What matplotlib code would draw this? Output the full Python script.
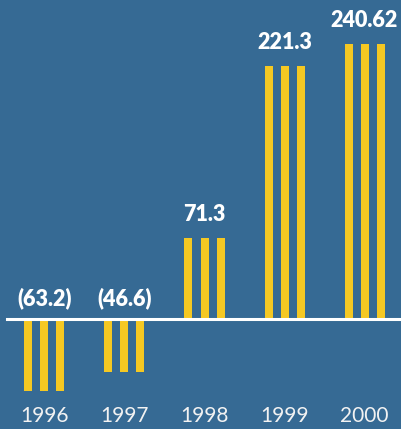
import numpy as np
import matplotlib
matplotlib.use('Agg')
import matplotlib.pyplot as plt

# data
years = ['1996', '1997', '1998', '1999', '2000']
values = [-63.2, -46.6, 71.3, 221.3, 240.62]
value_labels = ['(63.2)', '(46.6)', '71.3', '221.3', '240.62']

bg = '#366a94'
bar_color = '#f5c823'

plt.rcParams['font.family'] = ['Lato', 'DejaVu Sans']

fig = plt.figure(figsize=(4.01, 4.29), dpi=100)
fig.patch.set_facecolor(bg)
ax = fig.add_axes([0, 0, 1, 1])
ax.set_facecolor(bg)

x = np.arange(len(years))
# three thin bars per year
for off in (-0.2, 0.0, 0.2):
    ax.bar(x + off, values, width=0.1, color=bar_color, zorder=2)

# baseline
ax.axhline(0, xmin=0.017, xmax=1, color='white', linewidth=2.2, zorder=3)

for xi, v, lab in zip(x, values, value_labels):
    if v >= 0:
        ax.annotate(lab, (xi, v), xytext=(0, 12), textcoords='offset points',
                    ha='center', va='baseline', color='white',
                    fontsize=15.5, fontweight='heavy')
    else:
        ax.annotate(lab, (xi, 0), xytext=(0, 10), textcoords='offset points',
                    ha='center', va='baseline', color='white',
                    fontsize=15.5, fontweight='heavy')

for xi, yr in zip(x, years):
    ax.annotate(yr, (xi, 0), xytext=(0, -74), textcoords='offset points',
                ha='center', va='baseline', color='#f2f2f2', fontsize=15)

ax.set_xlim(-0.556, 4.456)
ax.set_ylim(-96.2, 279.1)
ax.axis('off')

fig.savefig('out.png', dpi=100, facecolor=bg)
